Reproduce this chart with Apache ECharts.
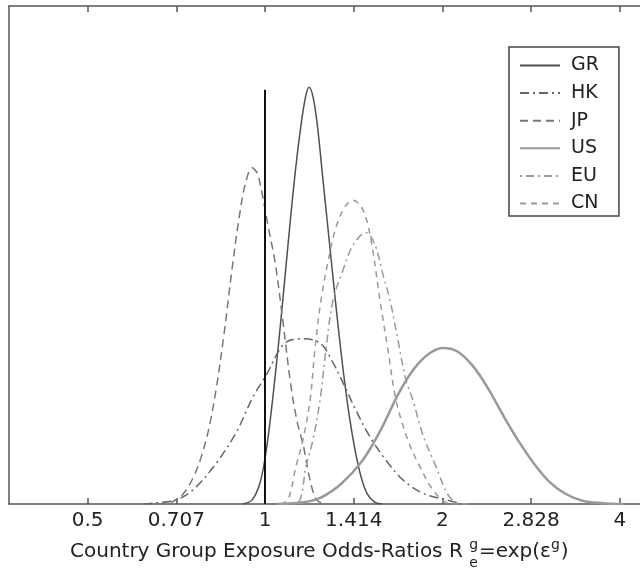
<!DOCTYPE html>
<html><head><meta charset="utf-8">
<script src="https://cdn.jsdelivr.net/npm/echarts@6/dist/echarts.min.js"></script>
<style>html,body{margin:0;padding:0;background:#fff}#c{width:640px;height:575px}</style>
</head><body><div id="c"></div>
<script>
// x values are eps = ln(R), y values are density
const tickLabels = ['0.5', '0.707', '1', '1.414', '2', '2.828', '4'];
const tickRatios = [0.5, 0.70711, 1, 1.41421, 2, 2.82843, 4];
const seriesNames = ['GR', 'HK', 'JP', 'US', 'EU', 'CN'];

const GR = [[-0.086,0],[-0.05,0.05],[-0.02,0.25],[0.0,0.55],[0.02,1.0],[0.04,1.55],[0.06,2.15],[0.08,2.8],[0.10,3.45],[0.12,4.05],[0.14,4.55],[0.158,4.9],[0.172,5.02],[0.188,4.9],[0.205,4.55],[0.225,3.95],[0.25,3.2],[0.275,2.45],[0.30,1.75],[0.325,1.15],[0.35,0.68],[0.375,0.33],[0.40,0.12],[0.43,0.02],[0.46,0]];
const HK = [[-0.476,0],[-0.437,0.01],[-0.348,0.05],[-0.281,0.17],[-0.191,0.49],[-0.113,0.86],[-0.047,1.29],[0.004,1.55],[0.078,1.94],[0.148,1.99],[0.215,1.94],[0.266,1.70],[0.305,1.46],[0.355,1.13],[0.410,0.81],[0.472,0.53],[0.539,0.29],[0.617,0.13],[0.707,0.05],[0.773,0]];
const JP = [[-0.42,0],[-0.36,0.03],[-0.32,0.12],[-0.28,0.32],[-0.25,0.56],[-0.22,0.90],[-0.19,1.40],[-0.16,2.05],[-0.13,2.80],[-0.10,3.47],[-0.075,3.88],[-0.05,4.05],[-0.03,3.98],[-0.01,3.72],[0.012,3.35],[0.04,2.9],[0.07,2.2],[0.10,1.45],[0.125,1.0],[0.15,0.7],[0.175,0.3],[0.20,0.06],[0.23,0]];
const US = [[0.05,0],[0.15,0.02],[0.22,0.08],[0.30,0.25],[0.38,0.52],[0.45,0.88],[0.52,1.32],[0.58,1.62],[0.64,1.81],[0.695,1.88],[0.75,1.84],[0.81,1.67],[0.87,1.40],[0.93,1.07],[0.99,0.76],[1.05,0.49],[1.11,0.27],[1.17,0.13],[1.24,0.04],[1.32,0.01],[1.40,0]];
const EU = [[0.109,0],[0.137,0.05],[0.160,0.45],[0.187,0.77],[0.215,1.25],[0.238,1.86],[0.266,2.46],[0.305,2.82],[0.344,3.12],[0.394,3.27],[0.430,3.12],[0.461,2.76],[0.488,2.46],[0.519,1.98],[0.551,1.49],[0.578,1.25],[0.617,0.83],[0.668,0.45],[0.715,0.11],[0.754,0.01],[0.793,0]];
const CN = [[0.062,0],[0.090,0.05],[0.121,0.45],[0.148,0.77],[0.176,1.25],[0.195,1.86],[0.219,2.46],[0.246,2.92],[0.277,3.33],[0.312,3.58],[0.344,3.66],[0.383,3.54],[0.414,3.18],[0.449,2.46],[0.480,1.86],[0.512,1.25],[0.558,0.77],[0.605,0.45],[0.656,0.17],[0.707,0.02],[0.754,0]];
const refLine = [[0, 0], [0, 4.99]];

const seriesData = { GR, HK, JP, US, EU, CN };
const styles = {
  GR: { color: '#505050', width: 1.5, type: 'solid' },
  HK: { color: '#666', width: 1.5, type: [9, 4, 2, 4] },
  JP: { color: '#777', width: 1.5, type: [8, 5] },
  US: { color: '#999', width: 2.5, type: 'solid' },
  EU: { color: '#999', width: 1.5, type: [2, 4, 8, 4] },
  CN: { color: '#999', width: 1.5, type: [6, 5] }
};

const tickVals = tickRatios.map(r => Math.log(r));
const FONT = '"DejaVu Sans", Arial, sans-serif';

function labelFor(v) {
  let best = 0, bd = Infinity;
  tickVals.forEach((t, i) => { const d = Math.abs(t - v); if (d < bd) { bd = d; best = i; } });
  return tickLabels[best];
}

const chart = echarts.init(document.getElementById('c'), null, { renderer: 'canvas' });

const series = seriesNames.map(n => ({
  name: n, type: 'line', data: seriesData[n], smooth: 0.35, symbol: 'none',
  lineStyle: { color: styles[n].color, width: styles[n].width, type: styles[n].type },
  itemStyle: { color: styles[n].color },
  z: 3
}));
series.push({
  name: 'ref', type: 'line', data: refLine, symbol: 'none',
  lineStyle: { color: '#111', width: 2 }, itemStyle: { color: '#111' }, z: 4
});

// measure title pieces
const cv = document.createElement('canvas').getContext('2d');
const titleSize = 20, supSize = 14;
cv.font = titleSize + 'px ' + FONT;
const part1 = 'Country Group Exposure Odds-Ratios R ';
const part2 = '=exp(\u03b5';
const w1 = cv.measureText(part1).width;
const w2 = cv.measureText(part2).width;
cv.font = supSize + 'px ' + FONT;
const wg = cv.measureText('g').width;
const tx = 70, ty = 542;

chart.setOption({
  animation: false,
  backgroundColor: '#fff',
  grid: { left: 9, top: 6, width: 640, height: 498, containLabel: false, outerBoundsMode: 'none' },
  xAxis: [{
    type: 'value', min: -1, max: 1.5, position: 'bottom',
    axisLine: { show: true, onZero: false, lineStyle: { color: '#555', width: 1.5 } },
    axisTick: { show: true, inside: true, length: 6, customValues: tickVals, lineStyle: { color: '#555', width: 1.5 } },
    axisLabel: { customValues: tickVals, formatter: labelFor, fontSize: 20, fontFamily: FONT, color: '#222', margin: 7 },
    splitLine: { show: false }
  }, {
    type: 'value', min: -1, max: 1.5, position: 'top',
    axisLine: { show: true, onZero: false, lineStyle: { color: '#555', width: 1.5 } },
    axisTick: { show: true, inside: true, length: 6, customValues: tickVals, lineStyle: { color: '#555', width: 1.5 } },
    axisLabel: { show: false },
    splitLine: { show: false }
  }],
  yAxis: {
    type: 'value', min: 0, max: 6,
    axisLine: { show: true, onZero: false, lineStyle: { color: '#555', width: 1.5 } },
    axisTick: { show: false }, axisLabel: { show: false }, splitLine: { show: false }
  },
  legend: {
    data: seriesNames, orient: 'vertical', left: 509, top: 47,
    itemWidth: 40, itemHeight: 14, itemGap: 8.6,
    padding: [9, 20, 3, 10],
    borderColor: '#444', borderWidth: 1.5, backgroundColor: '#fff',
    itemStyle: { opacity: 0 },
    textStyle: { fontSize: 19, lineHeight: 14, fontFamily: FONT, color: '#222', padding: [0, 0, 0, 6] }
  },
  series,
  graphic: [
    { type: 'text', left: tx, top: ty, style: { text: part1, font: titleSize + 'px ' + FONT, fill: '#222' } },
    { type: 'text', left: tx + w1, top: ty - 4, style: { text: 'g', font: supSize + 'px ' + FONT, fill: '#222' } },
    { type: 'text', left: tx + w1, top: ty + 14, style: { text: 'e', font: supSize + 'px ' + FONT, fill: '#222' } },
    { type: 'text', left: tx + w1 + wg + 1, top: ty, style: { text: part2, font: titleSize + 'px ' + FONT, fill: '#222' } },
    { type: 'text', left: tx + w1 + wg + 1 + w2, top: ty - 4, style: { text: 'g', font: supSize + 'px ' + FONT, fill: '#222' } },
    { type: 'text', left: tx + w1 + wg + 2 + w2 + wg, top: ty, style: { text: ')', font: titleSize + 'px ' + FONT, fill: '#222' } }
  ]
});
</script>
</body></html>
